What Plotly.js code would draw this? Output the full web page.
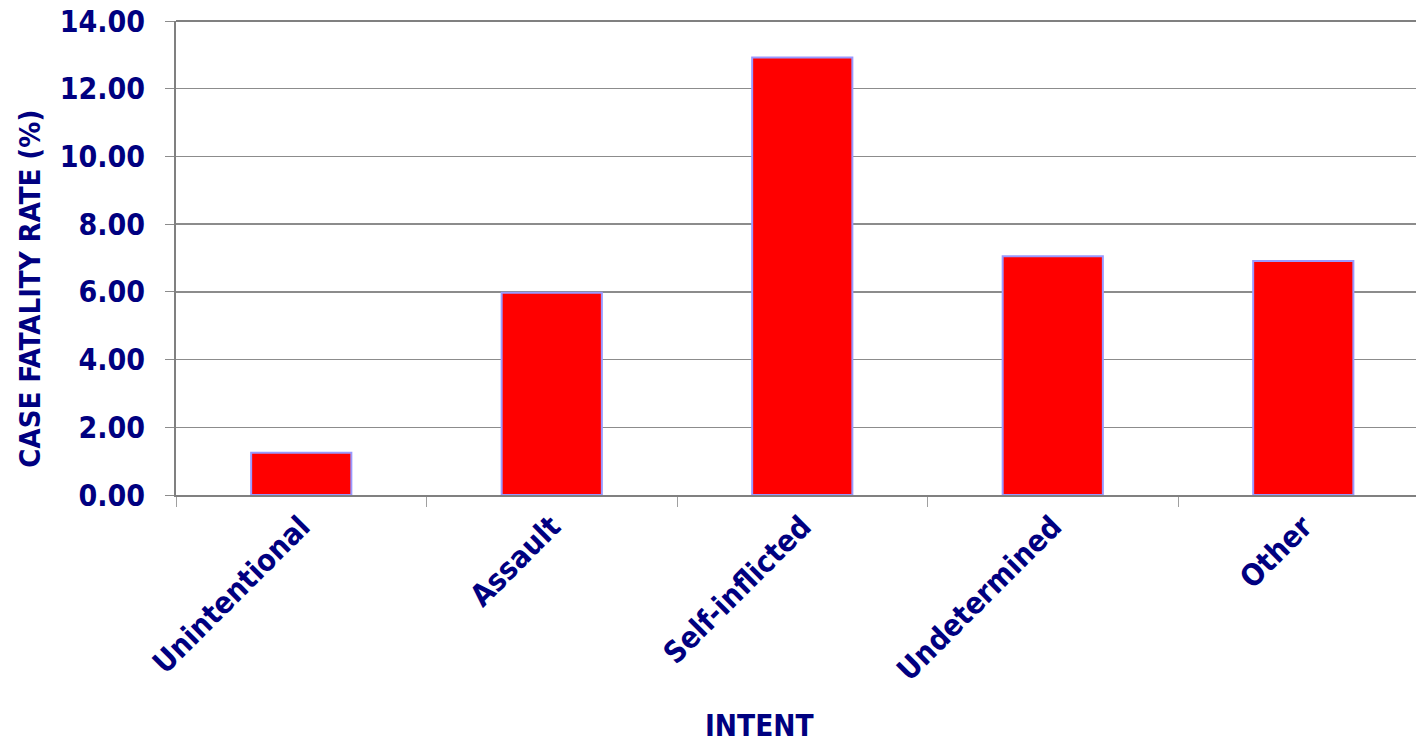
<!DOCTYPE html>
<html>
<head>
<meta charset="utf-8">
<script src="https://cdn.plot.ly/plotly-3.0.1.min.js"></script>
<style>
  html, body { margin: 0; padding: 0; background: #ffffff; }
  #chart { width: 1416px; height: 743px; }
</style>
</head>
<body>
<div id="chart"></div>
<script>
// Case fatality rate by intent of injury
const intents = ["Unintentional", "Assault", "Self-inflicted", "Undetermined", "Other"];
const fatalityRate = [1.25, 5.97, 12.92, 7.05, 6.91];
const yTickValues = [0, 2, 4, 6, 8, 10, 12, 14];
const yTickLabels = ["0.00", "2.00", "4.00", "6.00", "8.00", "10.00", "12.00", "14.00"];

const navy = "#000080";
const fontFamily = "'DejaVu Sans Condensed', 'DejaVu Sans', sans-serif";

const trace = {
  type: "bar",
  x: intents,
  y: fatalityRate,
  marker: { color: "#ff0000", line: { color: "#9999ff", width: 2 } },
  hoverinfo: "x+y"
};

const layout = {
  width: 1416,
  height: 743,
  margin: { l: 176, r: 0, t: 21, b: 248, pad: 0 },
  paper_bgcolor: "#ffffff",
  plot_bgcolor: "#ffffff",
  bargap: 0.6,
  showlegend: false,
  font: { family: fontFamily, color: navy },
  xaxis: {
    type: "category",
    range: [-0.5, 4.45],
    showgrid: false,
    showline: true,
    linecolor: "#808080",
    linewidth: 2,
    ticks: "outside",
    tickson: "boundaries",
    ticklen: 10,
    tickwidth: 1,
    tickcolor: "#a0a0a0",
    tickangle: -45,
    tickfont: { family: fontFamily, size: 30, color: navy, weight: "bold" },
    fixedrange: true
  },
  yaxis: {
    range: [0, 14],
    tickvals: yTickValues,
    ticktext: yTickLabels,
    showgrid: true,
    gridcolor: "#8c8c8c",
    gridwidth: 1.5,
    zeroline: false,
    showline: true,
    linecolor: "#808080",
    linewidth: 2,
    ticks: "outside",
    ticklen: 9,
    tickwidth: 1,
    tickcolor: "#8c8c8c",
    ticklabelstandoff: 14,
    tickfont: { family: fontFamily, size: 30, color: navy, weight: "bold" },
    fixedrange: true
  },
  annotations: [
    {
      text: "CASE FATALITY RATE (%)",
      xref: "paper", yref: "paper",
      x: -0.118, y: (495 - 289) / 474,
      xanchor: "center", yanchor: "middle",
      textangle: -90,
      showarrow: false,
      font: { family: fontFamily, size: 29, color: navy, weight: "bold" }
    },
    {
      text: "INTENT",
      xref: "paper", yref: "paper",
      x: (759 - 176) / 1240, y: -(726 - 495) / 474,
      xanchor: "center", yanchor: "middle",
      showarrow: false,
      font: { family: fontFamily, size: 29.5, color: navy, weight: "bold" }
    }
  ],
  shapes: [
    {
      type: "line", xref: "paper", yref: "paper",
      x0: 0, x1: 1, y0: 1, y1: 1,
      line: { color: "#808080", width: 2 }
    }
  ]
};

Plotly.newPlot("chart", [trace], layout, { displayModeBar: false, staticPlot: true });
</script>
</body>
</html>
